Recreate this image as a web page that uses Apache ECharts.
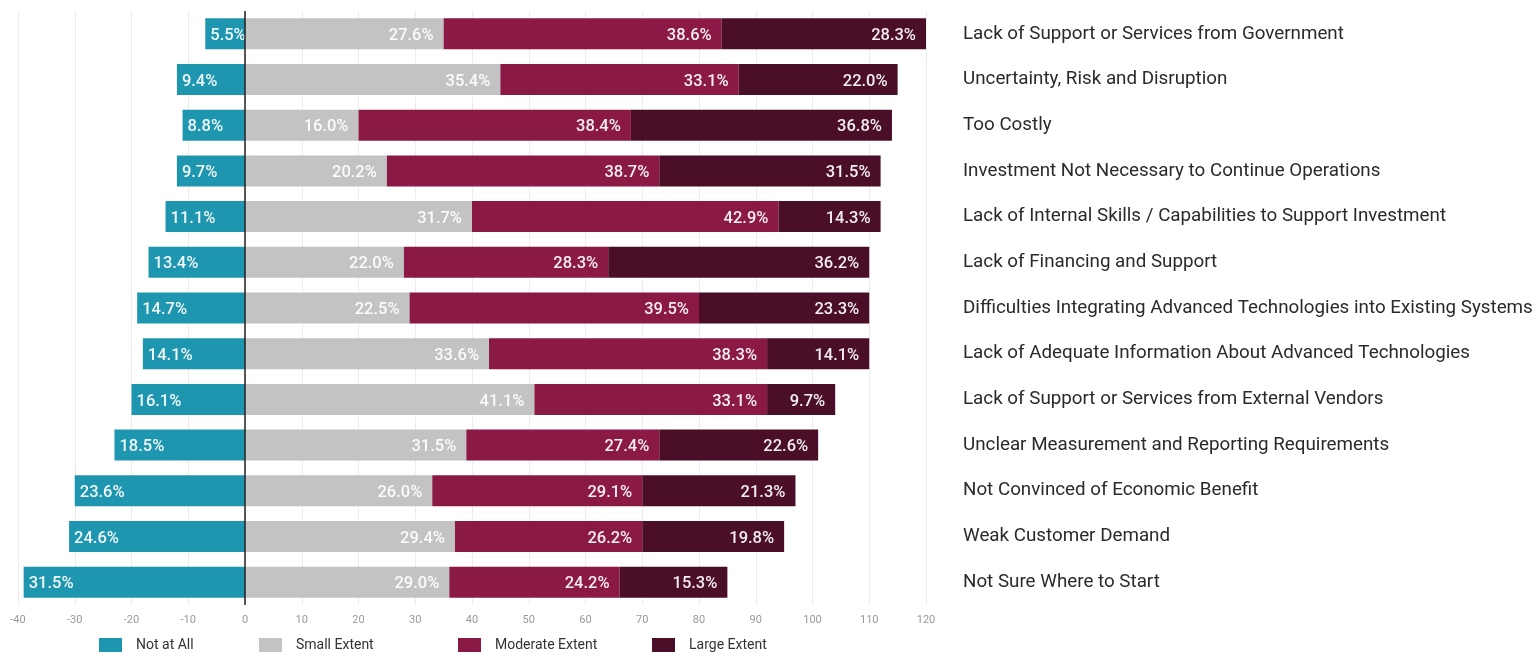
<!DOCTYPE html>
<html>
<head>
<meta charset="utf-8">
<script src="https://cdn.jsdelivr.net/npm/echarts@6/dist/echarts.min.js"></script>
<style>
html,body{margin:0;padding:0;background:#fff;}
#chart{width:1538px;height:656px;}
</style>
</head>
<body>
<div id="chart"></div>
<script>
const categories = [
  "Lack of Support or Services from Government",
  "Uncertainty, Risk and Disruption",
  "Too Costly",
  "Investment Not Necessary to Continue Operations",
  "Lack of Internal Skills / Capabilities to Support Investment",
  "Lack of Financing and Support",
  "Difficulties Integrating Advanced Technologies into Existing Systems",
  "Lack of Adequate Information About Advanced Technologies",
  "Lack of Support or Services from External Vendors",
  "Unclear Measurement and Reporting Requirements",
  "Not Convinced of Economic Benefit",
  "Weak Customer Demand",
  "Not Sure Where to Start"
];
const seriesNames = ["Not at All", "Small Extent", "Moderate Extent", "Large Extent"];
// respondent counts (bar lengths)
const notAtAll = [7, 12, 11, 12, 14, 17, 19, 18, 20, 23, 30, 31, 39];
const smallExtent = [35, 45, 20, 25, 40, 28, 29, 43, 51, 39, 33, 37, 36];
const moderateExtent = [49, 42, 48, 48, 54, 36, 51, 49, 41, 34, 37, 33, 30];
const largeExtent = [36, 28, 46, 39, 18, 46, 30, 18, 12, 28, 27, 25, 19];
// percentage labels
const notAtAllPct = ["5.5", "9.4", "8.8", "9.7", "11.1", "13.4", "14.7", "14.1", "16.1", "18.5", "23.6", "24.6", "31.5"];
const smallExtentPct = ["27.6", "35.4", "16.0", "20.2", "31.7", "22.0", "22.5", "33.6", "41.1", "31.5", "26.0", "29.4", "29.0"];
const moderateExtentPct = ["38.6", "33.1", "38.4", "38.7", "42.9", "28.3", "39.5", "38.3", "33.1", "27.4", "29.1", "26.2", "24.2"];
const largeExtentPct = ["28.3", "22.0", "36.8", "31.5", "14.3", "36.2", "23.3", "14.1", "9.7", "22.6", "21.3", "19.8", "15.3"];
const xTicks = { min: -40, max: 120, interval: 10 };

const colors = ["#1f96b0", "#c3c3c3", "#8a1946", "#4a0e29"];
const values = [notAtAll.map(v => -v), smallExtent, moderateExtent, largeExtent];
const pcts = [notAtAllPct, smallExtentPct, moderateExtentPct, largeExtentPct];
const labelFont = "Roboto";

const series = seriesNames.map((name, i) => ({
  name: name,
  type: 'bar',
  stack: 'total',
  barWidth: 31,
  data: values[i],
  itemStyle: { color: colors[i] },
  label: {
    show: true,
    position: i === 0 ? 'insideLeft' : 'insideRight',
    distance: i === 0 ? 5 : 10,
    offset: [0, 2],
    color: 'rgba(255,255,255,0.93)',
    fontFamily: labelFont,
    fontWeight: 500,
    fontSize: 16.5,
    formatter: p => pcts[i][p.dataIndex] + '%'
  },
  markLine: i === 0 ? {
    silent: true,
    symbol: ['none', 'none'],
    label: { show: false },
    lineStyle: { color: '#222', width: 1.5, type: 'solid' },
    data: [{ xAxis: 0 }]
  } : undefined
}));

const legendLefts = [99, 259, 458, 652];
const legend = seriesNames.map((name, i) => ({
  data: [name],
  left: legendLefts[i],
  top: 638,
  padding: 0,
  itemWidth: 23,
  itemHeight: 14,
  icon: 'rect',
  textStyle: { color: '#333', fontFamily: 'Roboto', fontSize: 14, padding: [1, 0, 0, 9] }
}));

const chart = echarts.init(document.getElementById('chart'), null, { renderer: 'canvas' });
chart.setOption({
  animation: false,
  backgroundColor: '#fff',
  grid: { left: 18, right: 612, top: 11, bottom: 51, containLabel: false, outerBoundsMode: 'none' },
  legend: legend,
  xAxis: {
    type: 'value',
    min: xTicks.min,
    max: xTicks.max,
    interval: xTicks.interval,
    axisLine: { show: false },
    axisTick: { show: false },
    splitLine: { lineStyle: { color: '#ececec', width: 1 } },
    axisLabel: { color: '#999', fontFamily: 'Roboto', fontSize: 11, margin: 10 }
  },
  yAxis: {
    type: 'category',
    data: categories,
    inverse: true,
    position: 'right',
    axisLine: { show: false },
    axisTick: { show: false },
    axisLabel: { color: '#2a2a2a', fontFamily: 'Roboto', fontSize: 18.8, margin: 37, align: 'left', padding: [12, 0, 0, 0] }
  },
  series: series
});
</script>
</body>
</html>
